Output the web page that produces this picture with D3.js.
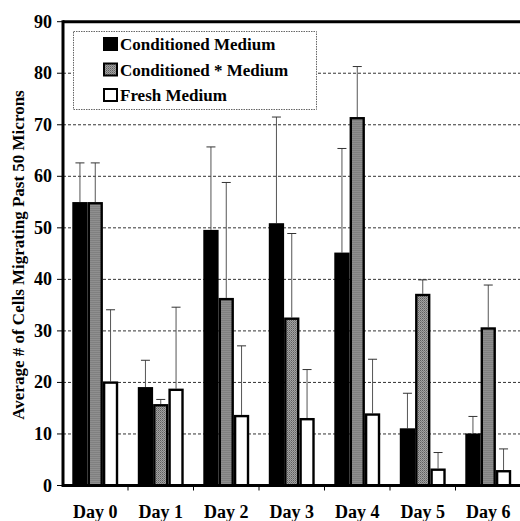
<!DOCTYPE html>
<html>
<head>
<meta charset="utf-8">
<script src="https://cdn.jsdelivr.net/npm/d3@7"></script>
<style>
  html, body { margin: 0; padding: 0; background: #fff; }
  svg { display: block; }
  svg text { font-family: "Liberation Serif", "DejaVu Serif", "Times New Roman", Times, serif; font-weight: bold; fill: #000; }
</style>
</head>
<body>
<script>
// Cell migration by day, three media
const days = ["Day 0", "Day 1", "Day 2", "Day 3", "Day 4", "Day 5", "Day 6"];
const seriesNames = ["Conditioned Medium", "Conditioned * Medium", "Fresh Medium"];

const conditioned     = [55.0, 19.1, 49.6, 50.9, 45.2, 11.1, 10.1];
const conditionedStar = [55.0, 15.8, 36.4, 32.6, 71.5, 37.2, 30.7];
const fresh           = [20.2, 18.8, 13.7, 13.1, 14.0, 3.3, 3.0];

const conditionedErr     = [7.6, 5.2, 16.1, 20.6, 20.2, 6.8, 3.3];
const conditionedStarErr = [7.6, 0.9, 22.4, 16.3, 9.8, 2.7, 8.2];
const freshErr           = [13.9, 15.8, 13.4, 9.4, 10.5, 3.1, 4.1];

const yTicks = [0, 10, 20, 30, 40, 50, 60, 70, 80, 90];
const yTitle = "Average # of Cells Migrating Past 50 Microns";

const values = [conditioned, conditionedStar, fresh];
const errors = [conditionedErr, conditionedStarErr, freshErr];

const W = 520, H = 521;
const margin = { left: 63, right: -1, top: 21.7, bottom: 35.5 };
const FONT = "'Liberation Serif', 'DejaVu Serif', 'Times New Roman', serif";

const svg = d3.select("body").append("svg").attr("width", W).attr("height", H)
  .attr("font-family", FONT).attr("font-weight", "bold");

// halftone-like fill for the middle series
const defs = svg.append("defs");
const pat = defs.append("pattern").attr("id", "stipple")
  .attr("width", 2).attr("height", 2).attr("patternUnits", "userSpaceOnUse");
pat.append("rect").attr("width", 2).attr("height", 2).attr("fill", "#a2a2a2");
pat.append("rect").attr("width", 1).attr("height", 1).attr("fill", "#5e5e5e");
pat.append("rect").attr("x", 1).attr("y", 1).attr("width", 1).attr("height", 1).attr("fill", "#7c7c7c");

const x0 = d3.scaleBand().domain(days).range([margin.left - 0.5, W - margin.right]).padding(0);
const x1 = d3.scaleBand().domain(d3.range(3)).range([0, x0.bandwidth()])
  .paddingInner(0).paddingOuter(0.64);
const y = d3.scaleLinear().domain([0, 90]).range([H - margin.bottom, margin.top]);

const fills = ["#000", "url(#stipple)", "#fff"];

// gridlines
svg.append("g").selectAll("line").data(yTicks.filter(t => t > 0 && t < 90)).join("line")
  .attr("x1", margin.left).attr("x2", W)
  .attr("y1", d => y(d)).attr("y2", d => y(d))
  .attr("stroke", "#333").attr("stroke-width", 1).attr("stroke-dasharray", "3,2");

// legend
const lg = svg.append("g");
lg.append("rect").attr("x", 73.5).attr("y", 31.5).attr("width", 243).attr("height", 78)
  .attr("fill", "#fff").attr("stroke", "#666").attr("stroke-width", 1).attr("stroke-dasharray", "1.5,1");
seriesNames.forEach((name, i) => {
  const cy = 44 + i * 25.5;
  lg.append("rect").attr("x", 104).attr("y", cy - 6).attr("width", 13).attr("height", 12)
    .attr("fill", fills[i]).attr("stroke", "#000").attr("stroke-width", 2);
  lg.append("text").attr("x", 120).attr("y", cy + 6).attr("font-size", 17).text(name);
});

// bars
const groups = svg.append("g").selectAll("g").data(days).join("g")
  .attr("transform", d => `translate(${x0(d)},0)`);

groups.each(function(day, di) {
  const g = d3.select(this);
  values.forEach((vals, si) => {
    const bx = x1(si), bw = x1.bandwidth();
    const v = vals[di], e = errors[si][di];
    const cx = bx + bw / 2;
    // upper error bar
    g.append("line").attr("x1", cx).attr("x2", cx)
      .attr("y1", y(v)).attr("y2", y(v + e))
      .attr("stroke", "#555").attr("stroke-width", 1);
    g.append("line").attr("x1", cx - 4.5).attr("x2", cx + 4.5)
      .attr("y1", y(v + e)).attr("y2", y(v + e))
      .attr("stroke", "#333").attr("stroke-width", 1);
    const sw = si === 0 ? 0 : 2.4;
    g.append("rect")
      .attr("x", bx + sw / 2).attr("y", y(v) + sw / 2)
      .attr("width", bw - sw).attr("height", Math.max(0, y(0) - y(v) - sw / 2))
      .attr("fill", fills[si]).attr("stroke", si === 0 ? "none" : "#000").attr("stroke-width", sw);
  });
});

// y axis
const yAxis = svg.append("g");
yAxis.append("line").attr("x1", margin.left).attr("x2", margin.left)
  .attr("y1", y(90) - 1.5).attr("y2", y(0) + 1.5).attr("stroke", "#000").attr("stroke-width", 3);
yAxis.selectAll("line.tk").data(yTicks).join("line").attr("class", "tk")
  .attr("x1", margin.left - 6).attr("x2", margin.left)
  .attr("y1", d => y(d)).attr("y2", d => y(d))
  .attr("stroke", "#000").attr("stroke-width", 1);
yAxis.selectAll("text").data(yTicks).join("text")
  .attr("x", 52).attr("y", d => y(d) + 6)
  .attr("text-anchor", "end").attr("font-size", 18).text(d => d);

// top frame
svg.append("line").attr("x1", margin.left).attr("x2", W).attr("y1", y(90)).attr("y2", y(90))
  .attr("stroke", "#000").attr("stroke-width", 3);

// x axis
const xAxis = svg.append("g");
xAxis.append("line").attr("x1", margin.left).attr("x2", W)
  .attr("y1", y(0)).attr("y2", y(0)).attr("stroke", "#000").attr("stroke-width", 3);
xAxis.selectAll("line.tk").data(days.slice(1)).join("line").attr("class", "tk")
  .attr("x1", d => x0(d)).attr("x2", d => x0(d))
  .attr("y1", y(0)).attr("y2", y(0) + 5).attr("stroke", "#000").attr("stroke-width", 1);
xAxis.selectAll("text").data(days).join("text")
  .attr("x", d => x0(d) + x0.bandwidth() / 2).attr("y", 518)
  .attr("text-anchor", "middle").attr("font-size", 18).text(d => d);

// y title
svg.append("text").attr("transform", `translate(24,255) rotate(-90)`)
  .attr("text-anchor", "middle").attr("font-size", 17).text(yTitle);
</script>
</body>
</html>
